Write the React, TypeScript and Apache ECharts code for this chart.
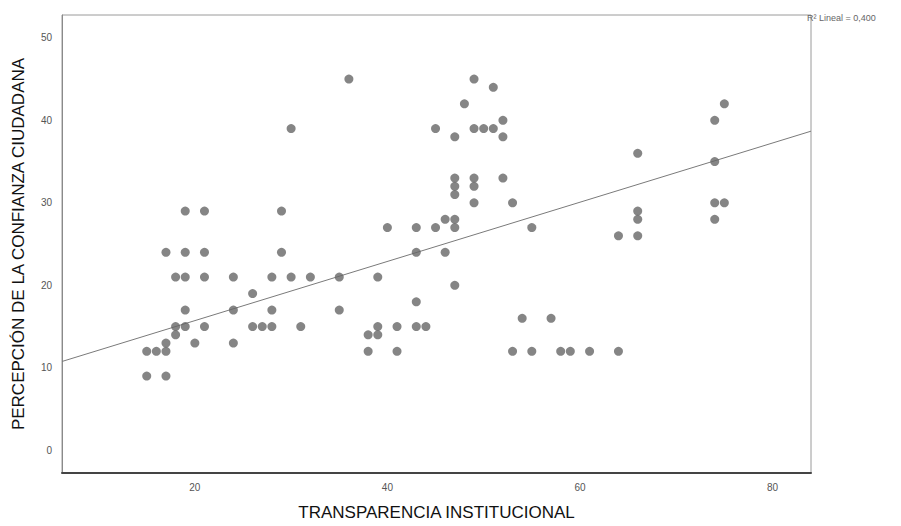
import React, { useEffect, useRef } from "react";
import * as echarts from "echarts";

// Observations: institutional transparency (x) vs. perceived citizen trust (y)
const transparencia: number[] = [
  15, 16, 17, 15, 17, 17,
  17, 19, 21, 29,
  18, 19, 21, 24, 28, 30, 32, 35,
  26,
  19, 24, 28, 35,
  18, 19, 21, 26, 27, 28, 31,
  18,
  20, 24,
  19, 21, 29,
  30, 36,
  49, 51, 48, 45, 49, 50, 51, 52, 47, 52,
  66,
  47, 47, 47, 49, 49, 52, 49, 53,
  66, 66,
  40, 43, 45, 46, 47, 47, 55,
  64, 66,
  43, 46,
  39, 47, 43, 54, 57,
  39, 39, 38, 41, 43, 44,
  38, 41, 53, 55, 58, 59, 61, 64,
  75, 74, 74, 74, 75, 74,
];

const confianza: number[] = [
  12, 12, 12, 9, 9, 13,
  24, 24, 24, 24,
  21, 21, 21, 21, 21, 21, 21, 21,
  19,
  17, 17, 17, 17,
  15, 15, 15, 15, 15, 15, 15,
  14,
  13, 13,
  29, 29, 29,
  39, 45,
  45, 44, 42, 39, 39, 39, 39, 40, 38, 38,
  36,
  33, 32, 31, 33, 32, 33, 30, 30,
  29, 28,
  27, 27, 27, 28, 28, 27, 27,
  26, 26,
  24, 24,
  21, 20, 18, 16, 16,
  15, 14, 14, 15, 15, 15,
  12, 12, 12, 12, 12, 12, 12, 12,
  42, 40, 35, 30, 30, 28,
];

const xTicks: number[] = [20, 40, 60, 80];
const yTicks: number[] = [0, 10, 20, 30, 40, 50];
const xRange: [number, number] = [6.2, 84];
const yRange: [number, number] = [-2.74, 52.76];

// Linear fit reported for the full sample (overlapping cases included)
const fitIntercept = 8.55;
const fitSlope = 0.3587;
const r2Label = "R² Lineal = 0,400";

export default function App() {
  const ref = useRef<HTMLDivElement>(null);

  useEffect(() => {
    if (!ref.current) return;
    const chart = echarts.init(ref.current, undefined, { renderer: "svg" });
    const points = transparencia.map((x, i) => [x, confianza[i]]);
    const fit = [
      [xRange[0], fitIntercept + fitSlope * xRange[0]],
      [xRange[1], fitIntercept + fitSlope * xRange[1]],
    ];
    const tickFont = {
      fontFamily: "'Liberation Sans Narrow', 'Liberation Sans', Arial, sans-serif",
      fontSize: 10,
      color: "#555",
    };
    const titleFont = {
      fontFamily: "'Liberation Sans', Arial, sans-serif",
      fontSize: 17,
      color: "#111",
    };

    chart.setOption({
      animation: false,
      backgroundColor: "#fff",
      grid: {
        left: 62,
        right: 90,
        top: 15,
        bottom: 51,
        show: true,
        borderColor: "#9a9a9a",
        borderWidth: 1,
        backgroundColor: "#fff",
      },
      xAxis: {
        type: "value",
        min: xRange[0],
        max: xRange[1],
        name: "TRANSPARENCIA INSTITUCIONAL",
        nameLocation: "middle",
        nameGap: 31,
        nameTextStyle: titleFont,
        axisLine: { show: true, onZero: false, lineStyle: { color: "#444", width: 2 } },
        axisTick: { show: false },
        splitLine: { show: false },
        axisLabel: { ...tickFont, margin: 9, customValues: xTicks },
      },
      yAxis: {
        type: "value",
        min: yRange[0],
        max: yRange[1],
        name: "PERCEPCIÓN DE LA CONFIANZA CIUDADANA",
        nameLocation: "middle",
        nameGap: 35,
        nameRotate: 90,
        nameTextStyle: titleFont,
        axisLine: { show: true, onZero: false, lineStyle: { color: "#8a8a8a", width: 1 } },
        axisTick: { show: false },
        splitLine: { show: false },
        axisLabel: { ...tickFont, margin: 10, customValues: yTicks },
      },
      graphic: [
        {
          type: "text",
          left: 807,
          top: 13,
          style: {
            text: r2Label,
            fontFamily: "'Liberation Sans Narrow', 'Liberation Sans', Arial, sans-serif",
            fontSize: 9,
            fill: "#666",
          },
        },
      ],
      series: [
        {
          type: "scatter",
          data: points,
          symbol: "circle",
          symbolSize: 9,
          itemStyle: { color: "#666666" },
          z: 3,
        },
        {
          type: "line",
          data: fit,
          showSymbol: false,
          symbol: "none",
          lineStyle: { color: "#7a7a7a", width: 1 },
          z: 2,
        },
      ],
    });
    return () => chart.dispose();
  }, []);

  return (
    <div
      ref={ref}
      style={{ position: "fixed", left: 0, top: 0, width: 901, height: 526 }}
    />
  );
}
